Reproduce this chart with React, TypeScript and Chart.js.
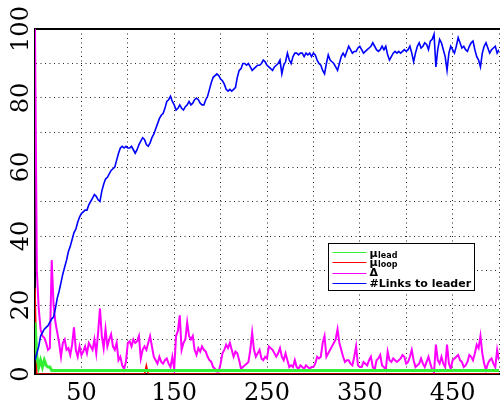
import React, { useEffect, useRef, useState } from 'react';
import { Chart, registerables } from 'chart.js';

Chart.register(...registerables);

// Sample spacing of the two long series (iterations 0, 2, 4, ... 500)
const SAMPLE_STEP = 2;

// #Links to leader (blue)
const linksToLeader = [
  4, 6, 8, 11, 12, 13, 13.5, 14, 15, 16,
  16.5, 19, 22, 24, 26.5, 29, 31, 33, 35.5, 37,
  39, 41, 42, 44, 45.5, 46.5, 47, 47.5, 47.5, 49,
  50, 51, 52, 51.5, 50.5, 50, 53, 55, 56.5, 57,
  58, 59, 59.5, 60, 62, 64, 65.5, 66, 65.5, 66,
  65.5, 65.5, 66, 65, 64, 65, 66.5, 67.5, 68.5, 68,
  66.5, 66, 67, 68.5, 69.5, 71, 72.5, 74, 75, 75.5,
  77, 79, 79.5, 80.5, 79, 78, 76.5, 77, 78, 77,
  76.5, 77.5, 78, 79, 78, 78.5, 79.5, 80, 79.5, 78.5,
  78, 78, 79.5, 80.5, 82.5, 84.5, 86, 86.5, 87, 86.5,
  85.5, 85, 84, 82.5, 82, 82.5, 82, 82.5, 83, 86,
  88, 88.5, 90, 90, 89.5, 90, 89, 88, 88.5, 89,
  89.5, 89.5, 90, 91, 90.5, 89.5, 89, 88.5, 88, 89,
  89.5, 90, 91, 87, 89.5, 90.5, 93, 91, 90, 92,
  93, 93, 92.5, 93, 93, 92, 93, 92.5, 93, 92,
  93, 92.5, 91, 90, 89.5, 88, 87, 90, 92.5, 91,
  90.5, 90, 89, 88, 90, 92, 93, 92, 93.5, 95,
  94, 93, 93.5, 93.5, 94.5, 95, 94, 93, 93.5, 94,
  94.5, 95, 96, 95, 94, 93.5, 94, 95, 94, 95,
  92.5, 91, 92, 93, 93.5, 93, 93.5, 93, 93.5, 94,
  93.5, 94, 95, 93, 90.5, 93, 95, 96, 94.5, 95,
  96, 95.5, 94, 96.5, 97, 98.5, 89, 94, 97, 96,
  94, 92, 88, 93, 95, 94, 93, 95, 97.5, 96,
  94.5, 95, 94, 93.5, 95, 96, 96.5, 94, 92, 91,
  89, 93, 95, 96, 94.5, 93, 94, 94.5, 95, 93,
  94,
];

// Delta (magenta)
const delta = [
  100, 30, 19, 13, 11, 10.5, 9, 7, 7.5, 33,
  20, 15, 12, 9, 5, 9, 10, 7, 7.5, 5.5,
  8.5, 13.5, 7, 5, 8, 5.5, 6.5, 8, 6, 9,
  8, 7, 10, 6, 12, 19, 11, 7.5, 13, 8,
  10, 11.5, 8, 7, 9, 4, 5, 2.5, 1.5, 3.5,
  9, 9.5, 8, 10, 9, 9.5, 11, 4.5, 7, 8,
  7, 9, 11, 8, 5, 4, 3, 5, 3.5, 3,
  4, 4.5, 3, 2, 5, 1.5, 11, 12.5, 17, 7,
  9, 10, 15, 11, 10, 11, 7, 5.5, 7.5, 6.5,
  8, 7, 6.5, 5, 4, 3.5, 2, 1.5, 0.7, 0.7,
  3, 6, 7, 8.5, 7.5, 9, 7, 5, 6.5, 6,
  4, 1.5, 2, 2.5, 3, 3.5, 7, 12, 7, 5,
  6, 7, 4.5, 4, 5, 4.5, 8, 7.5, 7, 6,
  5, 6, 7.5, 5, 4, 6, 4, 2, 2.5, 2,
  4, 2, 1.5, 2.5, 2, 1.5, 2.5, 2, 1.5, 2,
  2, 3, 5, 4.5, 5, 9, 11, 5, 6, 7,
  8, 9, 10, 13, 9, 7, 5, 3.5, 4, 4,
  3, 2.5, 5, 8, 2.5, 2, 2, 3.5, 3, 2.5,
  4, 5, 2, 1.2, 4, 4.5, 5.5, 2.5, 2, 1.2,
  6.5, 4, 3.5, 4.5, 4, 3.5, 4, 4.5, 5.5, 5,
  3, 3.5, 5, 7, 4, 2, 2.5, 3, 4.5, 3,
  2, 3.5, 5, 3, 1.2, 0.5, 8.5, 4, 3, 5,
  3, 2, 8.5, 3, 1.5, 4, 4.5, 5, 5.5, 4,
  3.5, 2, 2.5, 3.5, 5.5, 5, 4, 6, 8.5, 7.5,
  11, 6, 3, 1.2, 3, 4, 4.5, 3, 2, 7,
  4,
];

// mu_lead (green) as [iteration, value] points
const muLead: [number, number][] = [
  [0, 15], [2, 5], [4, 2], [6, 4], [8, 2], [10, 4], [12, 2.5], [14, 2], [16, 2], [18, 1], [500, 1],
];

// mu_loop (red) as [iteration, value] points
const muLoop: [number, number][] = [
  [0, 25], [2, 0], [118, 0], [120, 2.5], [122, 0], [500, 0],
];

const xTickLabels = [50, 150, 250, 350, 450];
const yTickLabels = [0, 20, 40, 60, 80, 100];

const COLORS = {
  lead: '#33ee33',
  loop: '#ff0000',
  delta: '#ff00ff',
  links: '#0000ff',
};

const legendEntries = [
  { main: 'μ', sub: 'lead', color: COLORS.lead },
  { main: 'μ', sub: 'loop', color: COLORS.loop },
  { main: 'Δ', sub: '', color: COLORS.delta },
  { main: '#Links to leader', sub: '', color: COLORS.links },
];

const legendPlugin = {
  id: 'texLegend',
  afterDraw(chart: any) {
    const { ctx, chartArea } = chart;
    const bx = Math.round(chartArea.right - 171) + 0.5;
    const by = Math.round(chartArea.top + 214) + 0.5;
    ctx.save();
    ctx.fillStyle = '#ffffff';
    ctx.fillRect(bx, by, 146, 47);
    ctx.strokeStyle = '#000000';
    ctx.lineWidth = 1;
    ctx.strokeRect(bx, by, 146, 47);
    const lineYs = [8, 18, 29, 39];
    const mainBase = [13, 22.5, 32, 43];
    const subBase = [14.5, 23.5, 0, 0];
    legendEntries.forEach((e, i) => {
      const ly = Math.round(by + lineYs[i]) + 0.5;
      ctx.strokeStyle = e.color;
      ctx.lineWidth = 1;
      ctx.beginPath();
      ctx.moveTo(bx + 4, ly);
      ctx.lineTo(bx + 38, ly);
      ctx.stroke();
      ctx.fillStyle = '#000000';
      ctx.textBaseline = 'alphabetic';
      ctx.textAlign = 'left';
      ctx.font = 'bold 11px "DejaVu Sans"';
      const tx = bx + 41;
      ctx.fillText(e.main, tx, by + mainBase[i]);
      if (e.sub) {
        const w = ctx.measureText(e.main).width;
        ctx.font = 'bold 8px "DejaVu Sans"';
        ctx.fillText(e.sub, tx + w + 0.5, by + subBase[i]);
      }
    });
    ctx.restore();
  },
};

type YLabel = { text: string; x: number; y: number };

export default function App() {
  const ref = useRef<HTMLCanvasElement | null>(null);
  const [yLabels, setYLabels] = useState<YLabel[]>([]);

  useEffect(() => {
    const canvas = ref.current;
    if (!canvas) return;
    const gridOpts = { color: '#222222', lineWidth: 1, drawTicks: false };
    const borderOpts = { display: true, color: '#000000', width: 2, dash: [1, 3.5] };
    const tickFont = { family: '"DejaVu Serif"', size: 24 };

    const chart = new Chart(canvas, {
      type: 'line',
      data: {
        datasets: [
          { label: 'mu_lead', data: muLead.map(([x, y]) => ({ x, y })), borderColor: COLORS.lead, borderWidth: 3, pointRadius: 0, order: 1 },
          { label: 'mu_loop', data: muLoop.map(([x, y]) => ({ x, y })), borderColor: COLORS.loop, borderWidth: 1.5, pointRadius: 0, order: 2 },
          { label: 'Delta', data: delta.map((y, i) => ({ x: i * SAMPLE_STEP, y })), borderColor: COLORS.delta, borderWidth: 2, pointRadius: 0, order: 3 },
          { label: '#Links to leader', data: linksToLeader.map((y, i) => ({ x: i * SAMPLE_STEP, y })), borderColor: COLORS.links, borderWidth: 1.6, pointRadius: 0, order: 0 },
        ],
      },
      options: {
        animation: false,
        responsive: false,
        maintainAspectRatio: false,
        events: [],
        layout: { padding: { left: 0, right: 1, top: 0, bottom: 0 } },
        plugins: { legend: { display: false }, tooltip: { enabled: false } },
        scales: {
          x: {
            type: 'linear', position: 'bottom', min: 0, max: 500,
            ticks: {
              stepSize: 50, autoSkip: false, maxRotation: 0, minRotation: 0, padding: 5, color: '#000000', font: tickFont,
              callback: (v: any) => (xTickLabels.includes(Number(v)) ? String(v) : ''),
            },
            grid: gridOpts, border: borderOpts,
            afterFit: (s: any) => { s.height = 35; },
          },
          xTop: {
            type: 'linear', position: 'top', display: true, min: 0, max: 500,
            ticks: { display: false },
            grid: { display: false, drawTicks: false },
            border: { display: true, color: '#000000', width: 2 },
            afterFit: (s: any) => { s.height = 29; },
          },
          y: {
            type: 'linear', min: 0, max: 100,
            ticks: { stepSize: 10, autoSkip: false, display: false },
            grid: gridOpts, border: borderOpts,
            afterFit: (s: any) => { s.width = 35; },
          },
        },
      } as any,
      plugins: [legendPlugin],
    });

    // Rotated y tick labels, positioned by the chart's own y scale
    const ys = chart.scales.y as any;
    const cx = ys.left + ys.width / 2 + 2;
    setYLabels(yTickLabels.map((v) => ({ text: String(v), x: cx, y: ys.getPixelForValue(v) })));

    return () => { chart.destroy(); };
  }, []);

  return (
    <div style={{ position: 'absolute', left: 0, top: 0, width: 504, height: 409, background: '#ffffff', overflow: 'hidden' }}>
      <canvas ref={ref} width={504} height={409} style={{ display: 'block' }} />
      {yLabels.map((l) => (
        <div
          key={l.text}
          style={{
            position: 'absolute', left: l.x, top: l.y,
            transform: 'translate(-50%, -50%) rotate(-90deg)',
            font: '24px "DejaVu Serif"', lineHeight: '24px', color: '#000000', whiteSpace: 'nowrap',
          }}
        >
          {l.text}
        </div>
      ))}
    </div>
  );
}
